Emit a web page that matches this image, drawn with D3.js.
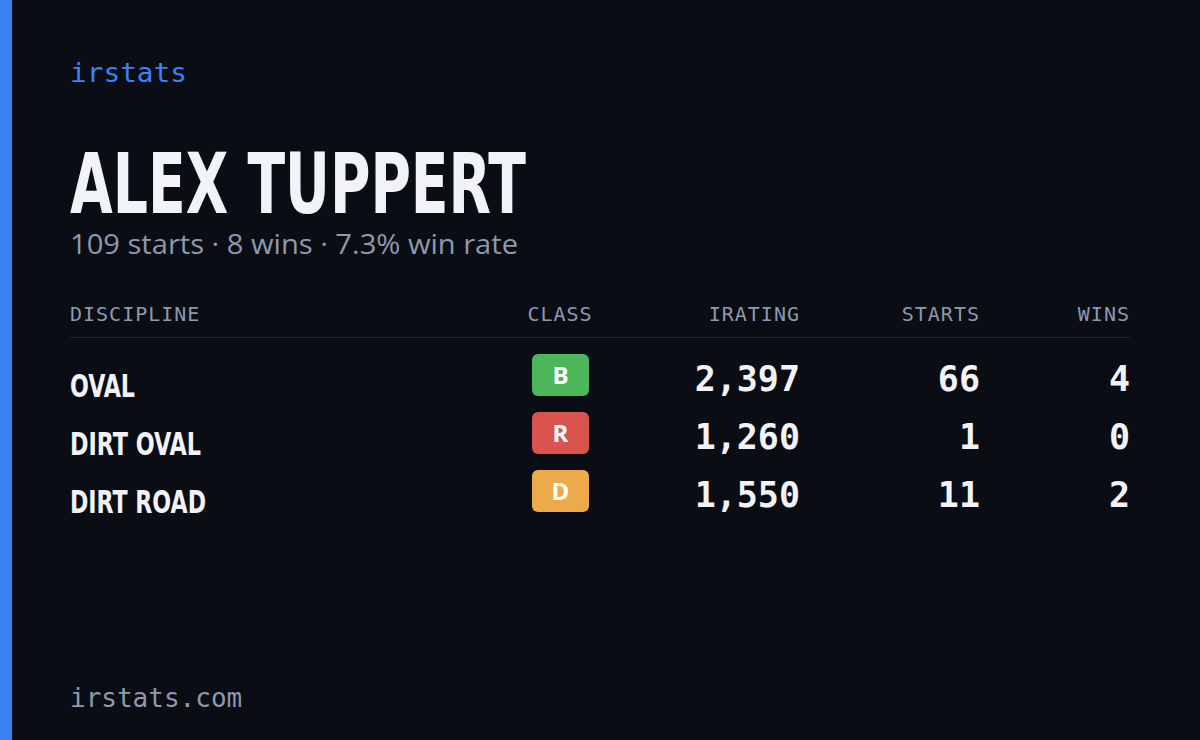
<!DOCTYPE html>
<html><head><meta charset="utf-8">
<script src="https://cdn.jsdelivr.net/npm/d3@7"></script>
<style>body{margin:0;background:#0a0d14}</style></head>
<body><svg id="c" width="1200" height="740"></svg>
<script>
const disciplines = ["OVAL","DIRT OVAL","DIRT ROAD"];
const classes = ["B","R","D"];
const iratings = [2397,1260,1550];
const starts = [66,1,11];
const wins = [4,0,2];
const totalStarts = 109;
const totalWins = 8;
const headers = ["DISCIPLINE","CLASS","IRATING","STARTS","WINS"];
const classColors = {B:"#4db55a",R:"#d9534f",D:"#eeaa4a"};

const svg = d3.select("#c");
svg.append("rect").attr("width",1200).attr("height",740).attr("fill","#0a0d14");
svg.append("rect").attr("width",12).attr("height",740).attr("fill","#3b82f6");
const mono = "'DejaVu Sans Mono', monospace";
const cond = "'DejaVu Sans Condensed','DejaVu Sans',sans-serif";
svg.append("text").attr("x",70).attr("y",82).text("irstats").attr("font-family",mono).attr("font-size",27).attr("fill","#3b82f6").attr("textLength",117).attr("lengthAdjust","spacingAndGlyphs");
svg.append("text").attr("x",70).attr("y",213).text("ALEX TUPPERT").attr("font-family",cond).attr("font-weight","bold").attr("font-size",84).attr("fill","#f1f3f7").attr("textLength",456).attr("lengthAdjust","spacingAndGlyphs");
svg.append("text").attr("x",70).attr("y",254).text(`${totalStarts} starts · ${totalWins} wins · ${(totalWins/totalStarts*100).toFixed(1)}% win rate`).attr("font-family","'Open Sans',sans-serif").attr("font-size",27).attr("fill","#8e99ad").attr("textLength",448).attr("lengthAdjust","spacingAndGlyphs");

const colX = [70,560,800,980,1130], anchors=["start","middle","end","end","end"];
svg.selectAll("text.h").data(headers).join("text").attr("class","h")
 .attr("x",(d,i)=>colX[i]).attr("y",321).attr("text-anchor",(d,i)=>anchors[i])
 .attr("font-family",mono).attr("font-size",20).attr("fill","#8e99ad").attr("letter-spacing",1).text(d=>d);
svg.append("line").attr("x1",70).attr("x2",1130).attr("y1",337.5).attr("y2",337.5).attr("stroke","#1e2430");

const y = d3.scaleBand().domain(d3.range(disciplines.length)).range([350,524]);
const fmt = d3.format(",");
const labelW = [65,131,136];
const g = svg.selectAll("g.r").data(disciplines).join("g").attr("class","r").attr("transform",(d,i)=>`translate(0,${y(i)})`);
g.append("text").attr("x",70).attr("y",47).text(d=>d).attr("font-family",cond).attr("font-weight","bold").attr("font-size",32).attr("fill","#f1f3f7").attr("textLength",(d,i)=>labelW[i]).attr("lengthAdjust","spacingAndGlyphs");
g.append("rect").attr("x",532).attr("y",4).attr("width",57).attr("height",42).attr("rx",6).attr("fill",(d,i)=>classColors[classes[i]]);
g.append("text").attr("x",560.5).attr("y",34).attr("text-anchor","middle").text((d,i)=>classes[i]).attr("font-family","'Open Sans',sans-serif").attr("font-weight","bold").attr("font-size",24).attr("fill","#fff");
const num = (x,f)=>g.append("text").attr("x",x).attr("y",41).attr("text-anchor","end").text(f).attr("font-family",mono).attr("font-weight","bold").attr("font-size",35).attr("fill","#f1f3f7");
num(800,(d,i)=>fmt(iratings[i])); num(980,(d,i)=>starts[i]); num(1130,(d,i)=>wins[i]);
svg.append("text").attr("x",70).attr("y",707).text("irstats.com").attr("font-family",mono).attr("font-size",26).attr("fill","#8e99ad");
</script></body></html>
